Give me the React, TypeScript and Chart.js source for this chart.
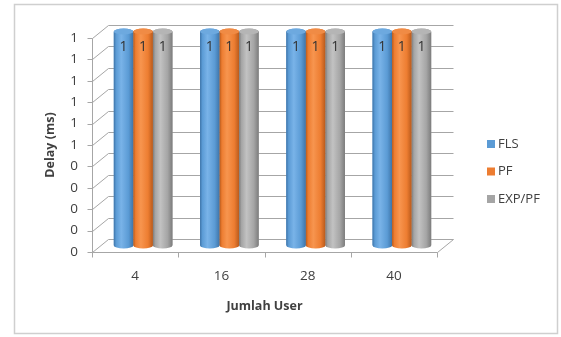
import React, { useEffect, useRef } from 'react';
import { Chart, registerables } from 'chart.js';

Chart.register(...registerables);

// ---- data ----
const categories = ['4', '16', '28', '40'];
const seriesNames = ['FLS', 'PF', 'EXP/PF'];
const flsDelay = [1, 1, 1, 1];
const pfDelay = [1, 1, 1, 1];
const expPfDelay = [1, 1, 1, 1];
const yMin = 0;
const yMax = 1;
const yStep = 0.1;
const xTitle = 'Jumlah User';
const yTitle = 'Delay (ms)';

// ---- styling ----
const FONT = '"Open Sans", "Liberation Sans", sans-serif';
const TEXT = '#404040';
const GRID = '#a6a6a6';
const DX = 8; // half of the 3D depth offset, horizontal
const DY = 6.5; // half of the 3D depth offset, vertical

const palette = [
  { base: '#5B9BD5', dark: '#3E74A8', light: '#79B3E8', cap: '#6DA9DF' },
  { base: '#ED7D31', dark: '#B85A1C', light: '#F7954F', cap: '#F08B45' },
  { base: '#A5A5A5', dark: '#7C7C7C', light: '#C2C2C2', cap: '#B5B5B5' },
];

const seriesValues = [flsDelay, pfDelay, expPfDelay];

// integer display of the axis / label values (0.5 rounds up)
const fmt = (v: number) => String(Math.round(parseFloat(Number(v).toFixed(6))));

const crisp = (v: number) => Math.round(v) + 0.5;

const framePlugin = {
  id: 'frame',
  beforeDraw(chart: any) {
    const { ctx, width, height } = chart;
    ctx.save();
    ctx.fillStyle = '#ffffff';
    ctx.fillRect(0, 0, width, height);
    ctx.strokeStyle = '#cfcfcf';
    ctx.lineWidth = 1.5;
    ctx.strokeRect(14.5, 4.5, 543, 329);
    ctx.restore();
  },
};

const wallsPlugin = {
  id: 'walls',
  beforeDatasetsDraw(chart: any) {
    const { ctx, chartArea: a, scales } = chart;
    const x = scales.x;
    const y = scales.y;
    ctx.save();
    ctx.strokeStyle = GRID;
    ctx.lineWidth = 1;
    const frontX = a.left - DX;
    const backX = a.left + DX;
    const backRight = a.right + DX;
    // value gridlines: front tick, side-wall slant, back-wall line
    y.ticks.forEach((t: any) => {
      const py = y.getPixelForValue(t.value);
      ctx.beginPath();
      ctx.moveTo(crisp(frontX) - 5, crisp(py + DY));
      ctx.lineTo(crisp(frontX), crisp(py + DY));
      ctx.lineTo(crisp(backX), crisp(py - DY));
      ctx.lineTo(crisp(backRight), crisp(py - DY));
      ctx.stroke();
    });
    const p0 = y.getPixelForValue(yMin);
    const p1 = y.getPixelForValue(yMax);
    // front value axis
    ctx.beginPath();
    ctx.moveTo(crisp(frontX), crisp(p0 + DY));
    ctx.lineTo(crisp(frontX), crisp(p1 + DY));
    ctx.stroke();
    // floor front edge and right edge
    ctx.beginPath();
    ctx.moveTo(crisp(frontX), crisp(p0 + DY));
    ctx.lineTo(crisp(a.right - DX), crisp(p0 + DY));
    ctx.lineTo(crisp(backRight), crisp(p0 - DY));
    ctx.stroke();
    // category tick marks on the floor front edge
    for (let i = 0; i <= categories.length; i++) {
      const bx = x.getPixelForValue(i - 0.5) - DX;
      ctx.beginPath();
      ctx.moveTo(crisp(bx), crisp(p0 + DY));
      ctx.lineTo(crisp(bx), crisp(p0 + DY) + 5);
      ctx.stroke();
    }
    ctx.restore();
  },
};

const cylinderPlugin = {
  id: 'cylinders',
  afterDatasetsDraw(chart: any) {
    const { ctx } = chart;
    ctx.save();
    chart.data.datasets.forEach((ds: any, di: number) => {
      const meta = chart.getDatasetMeta(di);
      const col = palette[di];
      meta.data.forEach((el: any, i: number) => {
        const w = el.width;
        const l = el.x - w / 2;
        const r = el.x + w / 2;
        const ry = 3;
        const g = ctx.createLinearGradient(l, 0, r, 0);
        g.addColorStop(0, col.dark);
        g.addColorStop(0.12, col.base);
        g.addColorStop(0.38, col.light);
        g.addColorStop(0.75, col.base);
        g.addColorStop(1, col.dark);
        ctx.fillStyle = g;
        ctx.beginPath();
        ctx.moveTo(l, el.y);
        ctx.lineTo(l, el.base);
        ctx.ellipse(el.x, el.base, w / 2, ry, 0, Math.PI, 0, true);
        ctx.lineTo(r, el.y);
        ctx.ellipse(el.x, el.y, w / 2, ry, 0, 0, Math.PI, true);
        ctx.closePath();
        ctx.fill();
        // top cap
        ctx.fillStyle = col.cap;
        ctx.beginPath();
        ctx.ellipse(el.x, el.y, w / 2, ry, 0, 0, Math.PI * 2);
        ctx.fill();
        // value label
        ctx.fillStyle = '#333333';
        ctx.font = `14px ${FONT}`;
        ctx.textAlign = 'center';
        ctx.textBaseline = 'middle';
        ctx.fillText(fmt(ds.data[i]), el.x, el.y + 16);
      });
    });
    ctx.restore();
  },
};

const annotationsPlugin = {
  id: 'annotations',
  afterDraw(chart: any) {
    const { ctx, chartArea: a } = chart;
    ctx.save();
    ctx.fillStyle = TEXT;
    ctx.textBaseline = 'middle';
    // axis titles
    ctx.font = `bold 12.5px ${FONT}`;
    ctx.textAlign = 'center';
    ctx.fillText(xTitle, (a.left + a.right) / 2 - DX, a.bottom + 60.5);
    ctx.save();
    ctx.translate(50, (a.top + a.bottom) / 2 + DY);
    ctx.rotate(-Math.PI / 2);
    ctx.fillText(yTitle, 0, 0);
    ctx.restore();
    // legend
    ctx.font = `13px ${FONT}`;
    ctx.textAlign = 'left';
    chart.data.datasets.forEach((ds: any, i: number) => {
      const cy = a.top + 112.5 + i * 27.5;
      ctx.fillStyle = palette[i].base;
      ctx.fillRect(a.right + 42, cy - 4, 8, 8);
      ctx.fillStyle = TEXT;
      ctx.fillText(ds.label, a.right + 53, cy);
    });
    ctx.restore();
  },
};

export default function App() {
  const ref = useRef<HTMLCanvasElement>(null);

  useEffect(() => {
    document.body.style.margin = '0';
    const canvas = ref.current;
    if (!canvas) return;
    const chart = new Chart(canvas, {
      type: 'bar',
      data: {
        labels: categories,
        datasets: seriesNames.map((name, i) => ({
          label: name,
          data: seriesValues[i],
          backgroundColor: palette[i].base,
          borderWidth: 0,
          categoryPercentage: 0.68,
          barPercentage: 1.0,
        })),
      },
      options: {
        responsive: false,
        animation: false,
        devicePixelRatio: 1,
        layout: { padding: { left: 0, top: 31.5, right: 116, bottom: 0 } },
        plugins: {
          legend: { display: false },
          tooltip: { enabled: false },
        },
        scales: {
          x: {
            grid: { display: false, drawTicks: false },
            border: { display: false },
            ticks: {
              color: TEXT,
              font: { family: FONT, size: 13.5 },
              labelOffset: -DX,
              padding: 23,
            },
            afterFit: (s: any) => {
              s.height = 91.5;
            },
          },
          y: {
            min: yMin,
            max: yMax,
            grid: { display: false, drawTicks: false },
            border: { display: false },
            ticks: {
              stepSize: yStep,
              color: TEXT,
              font: { family: FONT, size: 13.5 },
              labelOffset: DY,
              padding: 22,
              callback: (v: any) => fmt(v),
            },
            afterFit: (s: any) => {
              s.width = 100;
            },
          },
        },
      },
      plugins: [framePlugin, wallsPlugin, cylinderPlugin, annotationsPlugin],
    });
    return () => chart.destroy();
  }, []);

  return <canvas ref={ref} width={561} height={337} style={{ display: 'block' }} />;
}
